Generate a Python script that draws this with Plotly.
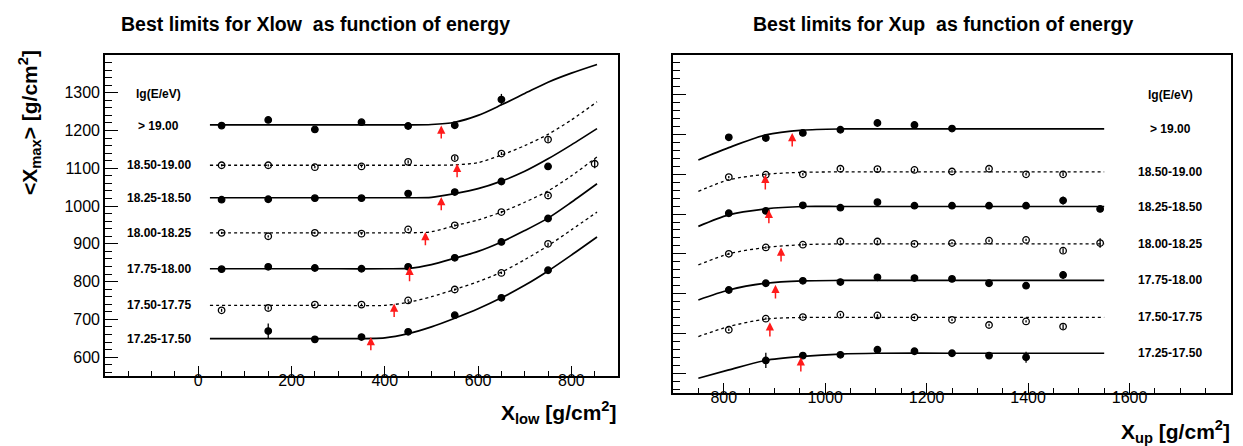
import plotly.graph_objects as go

# ---------------- data ----------------
energy_bins = ["> 19.00", "18.50-19.00", "18.25-18.50", "18.00-18.25",
               "17.75-18.00", "17.50-17.75", "17.25-17.50"]
dashed = [False, True, False, True, False, True, False]
header_label = "lg(E/eV)"

# left panel: <Xmax> vs X_low
x_low = [50, 150, 250, 350, 450, 550, 650, 750, 850]
low_pts = [
    [1213, 1228, 1203, 1222, 1212, 1214, 1282, None, None],
    [1108, 1108, 1103, 1105, 1117, 1127, 1139, 1176, None],
    [1017, 1018, 1021, 1021, 1033, 1037, 1065, 1105, None],
    [929, 920, 929, 927, 938, 949, 984, 1028, 1112],
    [833, 839, 836, 834, 839, 863, 905, 967, None],
    [724, 730, 739, 739, 750, 779, 823, 900, None],
    [None, 669, 647, 653, 667, 711, 757, 830, None],
]
low_err = [
    [3, 4, 3, 3, 3, 3, 15, 0, 0],
    [3, 3, 3, 3, 4, 6, 4, 6, 0],
    [3, 3, 3, 3, 3, 3, 3, 4, 0],
    [3, 3, 3, 3, 3, 3, 3, 4, 12],
    [3, 3, 3, 3, 3, 3, 3, 3, 0],
    [4, 4, 3, 3, 3, 3, 3, 3, 0],
    [0, 20, 4, 3, 3, 3, 3, 3, 0],
]
x_low_curve = [25, 100, 200, 300, 400, 450, 500, 550, 600, 650, 700, 750, 800, 855]
low_curves = [
    [1215, 1215, 1215, 1215, 1215, 1215, 1216, 1222, 1240, 1268, 1298, 1328, 1352, 1375],
    [1108, 1108, 1108, 1108, 1108, 1108, 1108, 1109, 1115, 1135, 1160, 1190, 1228, 1276],
    [1022, 1022, 1022, 1022, 1022, 1022, 1023, 1033, 1046, 1066, 1092, 1125, 1162, 1205],
    [929, 929, 929, 929, 929, 929, 932, 948, 963, 984, 1010, 1040, 1080, 1130],
    [834, 834, 834, 834, 834, 835, 845, 862, 880, 905, 935, 968, 1010, 1059],
    [737, 737, 737, 737, 737, 745, 760, 779, 800, 825, 858, 895, 937, 984],
    [649, 649, 649, 649, 651, 662, 680, 703, 728, 757, 790, 828, 870, 918],
]
low_arrow_x = [521, 555, 521, 487, 453, 420, 370]
low_arrow_tip = [1213, 1112, 1024, 931, 839, 742, 653]
low_arrow_tail = [1175, 1072, 985, 892, 797, 702, 614]
low_label_x = -85
low_label_y = [1213, 1108, 1022, 929, 834, 737, 649]
low_header_y = 1297

# right panel: <Xmax> vs X_up
x_up = [810, 883, 956, 1030, 1103, 1176, 1250, 1323, 1396, 1469, 1542]
up_pts = [
    [1193, 1191, 1204, 1212, 1229, 1224, 1215, None, None, None, None],
    [1093, 1099, 1100, 1114, 1113, 1111, 1107, 1114, 1100, 1100, None],
    [1002, 1008, 1022, 1016, 1030, 1021, 1021, 1021, 1021, 1034, 1013],
    [900, 916, 923, 931, 931, 925, 927, 933, 935, 908, 927],
    [809, 826, 832, 829, 841, 839, 837, 826, 820, 847, None],
    [709, 737, 741, 747, 745, 740, 734, 721, 730, 717, None],
    [None, 632, 644, 646, 659, 655, 650, 644, 640, None, None],
]
up_err = [
    [6, 3, 3, 3, 3, 4, 6, 0, 0, 0, 0],
    [3, 3, 3, 3, 3, 3, 3, 3, 3, 4, 0],
    [3, 3, 3, 3, 3, 3, 3, 3, 3, 10, 4],
    [3, 3, 3, 3, 3, 3, 3, 3, 3, 6, 12],
    [3, 3, 3, 3, 3, 3, 3, 3, 3, 10, 0],
    [3, 3, 3, 3, 3, 3, 3, 3, 3, 6, 0],
    [0, 19, 3, 3, 3, 3, 3, 4, 14, 0, 0],
]
x_up_curve = [750, 810, 883, 956, 1030, 1103, 1250, 1400, 1550]
up_curves = [
    [1136, 1167, 1199, 1211, 1214, 1214, 1214, 1214, 1214],
    [1057, 1086, 1100, 1105, 1106, 1106, 1106, 1106, 1106],
    [969, 998, 1013, 1019, 1019, 1019, 1019, 1019, 1019],
    [872, 900, 916, 923, 925, 925, 925, 925, 925],
    [784, 809, 826, 832, 833, 833, 833, 833, 833],
    [692, 717, 736, 740, 740, 740, 740, 740, 740],
    [587, 608, 632, 642, 648, 650, 650, 650, 650],
]
up_arrow_x = [935, 882, 889, 913, 902, 891, 952]
up_arrow_tip = [1204, 1099, 1011, 916, 822, 728, 640]
up_arrow_tail = [1166, 1058, 973, 877, 784, 688, 600]
up_label_x = 1680
up_label_y = [1214, 1106, 1019, 925, 833, 740, 650]
up_header_y = 1300

title_left = "Best limits for Xlow  as function of energy"
title_right = "Best limits for Xup  as function of energy"
ytitle = "<X<sub>max</sub>> [g/cm<sup>2</sup>]"
xtitle_left = "X<sub>low</sub> [g/cm<sup>2</sup>]"
xtitle_right = "X<sub>up</sub> [g/cm<sup>2</sup>]"

# ---------------- figure ----------------
FONT = "Liberation Sans, Arial, Helvetica, sans-serif"
W, H = 1243, 446
fig = go.Figure()

def add_panel(xc, curves, xp, pts, errs, xa, ya):
    for i in range(len(curves)):
        fig.add_trace(go.Scatter(
            x=xc, y=curves[i], mode="lines", xaxis=xa, yaxis=ya,
            line=dict(color="black", width=1.3 if dashed[i] else 1.7,
                      dash="3px,3px" if dashed[i] else "solid",
                      shape="spline", smoothing=0.8),
            showlegend=False, hoverinfo="skip"))
        fig.add_trace(go.Scatter(
            x=xp, y=pts[i], mode="markers", xaxis=xa, yaxis=ya,
            marker=dict(symbol="circle-open" if dashed[i] else "circle",
                        size=6.5, color="black", line=dict(color="black", width=1.3)),
            error_y=dict(type="data", array=errs[i], color="black", thickness=1.3, width=0),
            showlegend=False))

add_panel(x_low_curve, low_curves, x_low, low_pts, low_err, "x", "y")
add_panel(x_up_curve, up_curves, x_up, up_pts, up_err, "x2", "y2")

ann = []
def arrows(xs, tips, tails, xr, yr):
    for xv, t, tl in zip(xs, tips, tails):
        ann.append(dict(x=xv, y=t, ax=xv, ay=tl, xref=xr, yref=yr, axref=xr, ayref=yr,
                        showarrow=True, arrowhead=2, arrowsize=1.1, arrowwidth=1.5,
                        arrowcolor="#ff1a1a", text="", standoff=0))

arrows(low_arrow_x, low_arrow_tip, low_arrow_tail, "x", "y")
arrows(up_arrow_x, up_arrow_tip, up_arrow_tail, "x2", "y2")

lab_font = dict(family=FONT, size=12, color="black")
for lab, yv in zip(energy_bins, low_label_y):
    ann.append(dict(x=low_label_x, y=yv, xref="x", yref="y", text="<b>%s</b>" % lab,
                    showarrow=False, font=lab_font))
ann.append(dict(x=low_label_x, y=low_header_y, xref="x", yref="y",
                text="<b>%s</b>" % header_label, showarrow=False, font=lab_font))
for lab, yv in zip(energy_bins, up_label_y):
    ann.append(dict(x=up_label_x, y=yv, xref="x2", yref="y2", text="<b>%s</b>" % lab,
                    showarrow=False, font=lab_font))
ann.append(dict(x=up_label_x, y=up_header_y, xref="x2", yref="y2",
                text="<b>%s</b>" % header_label, showarrow=False, font=lab_font))

tfont = dict(family=FONT, size=19.5, color="black")
ann.append(dict(x=307 / W, y=1 - 16 / H, xref="paper", yref="paper", showarrow=False,
                text="<b>%s</b>" % title_left, font=tfont, xanchor="center", yanchor="middle"))
ann.append(dict(x=935 / W, y=1 - 16 / H, xref="paper", yref="paper", showarrow=False,
                text="<b>%s</b>" % title_right, font=tfont, xanchor="center", yanchor="middle"))
afont = dict(family=FONT, size=21, color="black")
ann.append(dict(x=22 / W, y=1 - 115 / H, xref="paper", yref="paper", showarrow=False,
                text="<b>%s</b>" % ytitle, font=afont, textangle=-90,
                xanchor="center", yanchor="middle"))
ann.append(dict(x=611 / W, y=1 - 404 / H, xref="paper", yref="paper", showarrow=False,
                text="<b>%s</b>" % xtitle_left, font=afont, xanchor="right", yanchor="middle"))
ann.append(dict(x=1224 / W, y=1 - 423 / H, xref="paper", yref="paper", showarrow=False,
                text="<b>%s</b>" % xtitle_right, font=afont, xanchor="right", yanchor="middle"))

tickfont = dict(family=FONT, size=16, color="black")
common = dict(showline=True, linecolor="black", linewidth=1.6, mirror=True,
              ticks="inside", tickcolor="black", tickwidth=1.3, showgrid=False,
              zeroline=False, tickfont=tickfont)

fig.update_layout(
    width=W, height=H, margin=dict(l=0, r=0, t=0, b=0),
    paper_bgcolor="white", plot_bgcolor="white",
    xaxis=dict(domain=[97 / W, 610 / W], range=[-200, 900], anchor="y",
               tickmode="array", tickvals=[0, 200, 400, 600, 800], ticklen=10,
               ticklabelstandoff=-11,
               minor=dict(tickmode="linear", tick0=0, dtick=50, ticklen=5,
                          ticks="inside", tickcolor="black", tickwidth=1.2),
               **common),
    yaxis=dict(domain=[1 - 368 / H, 1 - 47 / H], range=[550, 1400], anchor="x",
               tickmode="array", tickvals=[600, 700, 800, 900, 1000, 1100, 1200, 1300],
               ticklen=13,
               minor=dict(tickmode="linear", tick0=0, dtick=20, ticklen=7,
                          ticks="inside", tickcolor="black", tickwidth=1.2),
               **common),
    xaxis2=dict(domain=[665 / W, 1223 / W], range=[700, 1800], anchor="y2",
                tickmode="array", tickvals=[800, 1000, 1200, 1400, 1600], ticklen=10,
                ticklabelstandoff=-11,
                minor=dict(tickmode="linear", tick0=0, dtick=50, ticklen=5,
                           ticks="inside", tickcolor="black", tickwidth=1.2),
                **common),
    yaxis2=dict(domain=[1 - 385 / H, 1 - 47 / H], range=[550, 1400], anchor="x2",
                tickmode="array", tickvals=[600, 700, 800, 900, 1000, 1100, 1200, 1300],
                ticklen=13, showticklabels=False,
                minor=dict(tickmode="linear", tick0=0, dtick=20, ticklen=7,
                           ticks="inside", tickcolor="black", tickwidth=1.2),
                **common),
    annotations=ann,
)

fig.write_html("out.html")
